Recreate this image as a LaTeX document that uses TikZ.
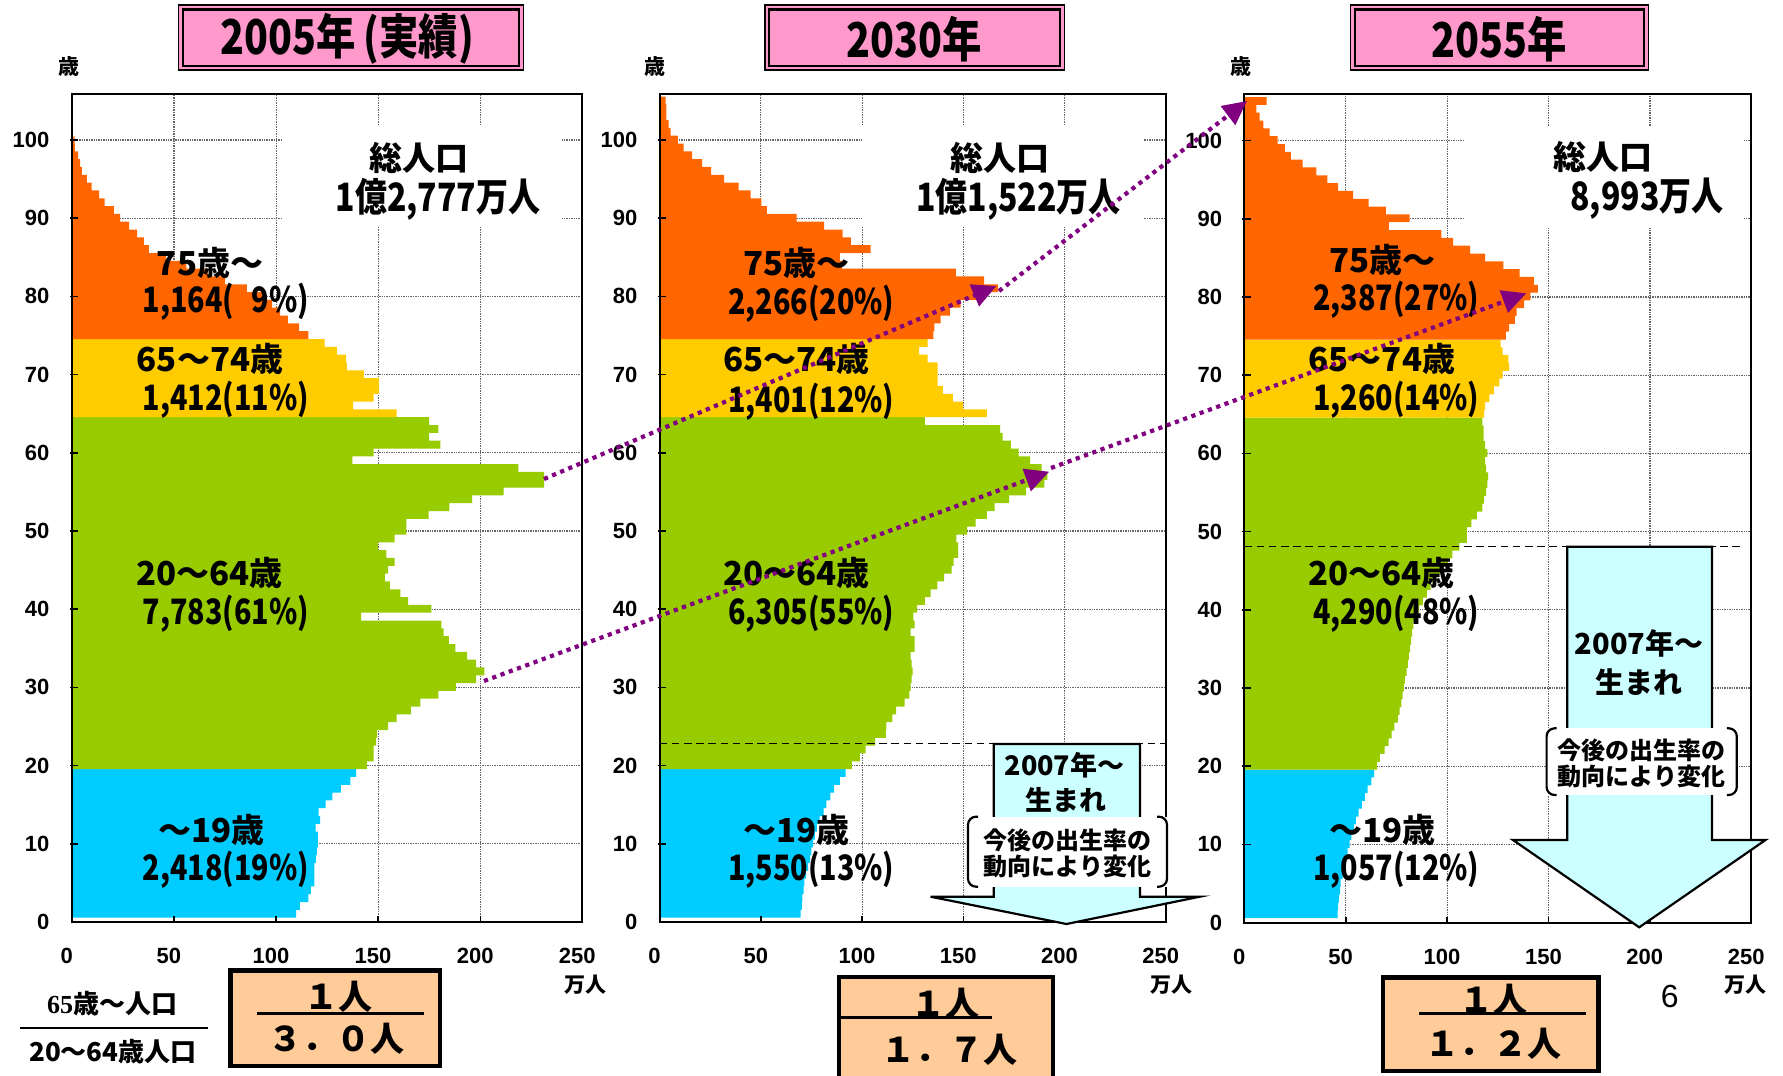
\documentclass[tikz,border=0pt]{standalone}
\usepackage{fontspec}
\setmainfont{Noto Sans CJK JP}
\newfontfamily\jpc{Noto Sans CJK JP}[FakeStretch=0.82]
\newfontfamily\lsans{Liberation Sans}
\newfontfamily\lserif{Liberation Serif}
\usetikzlibrary{arrows.meta}
\definecolor{orng}{HTML}{FF6600}
\definecolor{yelw}{HTML}{FFCC00}
\definecolor{grn}{HTML}{99CC00}
\definecolor{cyn}{HTML}{00CCFF}
\definecolor{pnk}{HTML}{FF99CC}
\definecolor{peach}{HTML}{FFCC99}
\definecolor{lcyan}{HTML}{CCFFFF}
\definecolor{purp}{HTML}{800080}
\newcommand{\popband}[4]{\fill[#1] (0,#2) \foreach \a/\v in {#4} {-- (\v,\a-0.45) -- (\v,\a+0.55)} -- (0,#3) -- cycle;}
\newcommand{\chartgrid}{%
  \foreach \k in {10,20,...,100} {\draw[gridl] (0,\k) -- (250,\k);}
  \foreach \k in {50,100,150,200} {\draw[gridl] (\k,0) -- (\k,105.9);}}
\newcommand{\chartframe}[1]{%
  \draw[frame] (0,0) rectangle (250,105.9);
  \foreach \k in {10,20,...,100} {\draw[tickl] (-1,\k) -- (3.2,\k);}
  \foreach \k in {50,100,150,200} {\draw[tickl] (\k,0) -- (\k,0.75);}
  \foreach \k in {0,10,...,100} {\node[ytick] (#1y\k) at (-10.8,\k) {\k};}
  \foreach \k in {0,50,...,250} {\node[xtick] (#1x\k) at (\k-2.5,-4.35) {\k};}}
\newcommand{\brackets}[4]{%
  \fill[white] (#1,#2) rectangle (#3,#4);
  \draw[line width=1.1pt, rounded corners=4pt] (#1+10,#2) -- (#1,#2) -- (#1,#4) -- (#1+10,#4);
  \draw[line width=1.1pt, rounded corners=4pt] (#3-10,#2) -- (#3,#2) -- (#3,#4) -- (#3-10,#4);}
\begin{document}
\begin{tikzpicture}[x=0.5pt,y=-0.5pt,
  gridl/.style={draw=black!60, line width=0.6pt, dash pattern=on 0.7pt off 0.5pt},
  frame/.style={draw=black, line width=1pt},
  tickl/.style={draw=black, line width=0.8pt},
  ytick/.style={font=\lsans\bfseries\fontsize{11}{12}\selectfont, inner sep=0pt, anchor=east},
  xtick/.style={font=\lsans\bfseries\fontsize{11}{12}\selectfont, inner sep=0pt},
  band/.style={font=\bfseries\fontsize{16.5}{18}\selectfont, inner sep=0pt},
  bandn/.style={font=\jpc\bfseries\fontsize{17.5}{19}\selectfont, inner sep=0pt},
  total/.style={font=\bfseries\fontsize{16.5}{18}\selectfont, inner sep=0pt},
  totaln/.style={font=\jpc\bfseries\fontsize{19.5}{21}\selectfont, inner sep=0pt},
  titletxt/.style={font=\jpc\bfseries\fontsize{24}{26}\selectfont, inner sep=0pt},
  titlebox/.style={draw=black, line width=0.6pt, fill=pnk, inner sep=0pt},
  ratiobox/.style={draw=black, line width=2.25pt, fill=peach, inner sep=0pt},
  ratiotxt/.style={font=\bfseries\fontsize{17}{19}\selectfont, inner sep=0pt},
  arrtxt/.style={font=\bfseries\fontsize{13.5}{15}\selectfont, inner sep=0pt},
  brtxt/.style={font=\bfseries\fontsize{12}{14}\selectfont, inner sep=0pt},
  unit/.style={font=\bfseries\fontsize{10.5}{12}\selectfont, inner sep=0pt},
  fractxt/.style={font=\bfseries\fontsize{13}{15}\selectfont, inner sep=0pt},
  blockarr/.style={draw=black, line width=1.1pt, fill=lcyan, line join=miter},
  dashln/.style={draw=black, line width=0.75pt, dash pattern=on 3.8pt off 2.3pt},
  purparrow/.style={draw=purp, line width=2.1pt, dash pattern=on 2.1pt off 2.3pt, -{Triangle[length=12pt,width=11.5pt]}}
]
\useasboundingbox (0,0) rectangle (1783,1076);
\fill[white] (0,0) rectangle (1783,1076);

% ---------- chart 1 : 2005 ----------
\begin{scope}[shift={(71.9,922)},x=1.021pt,y=3.91pt]
\chartgrid
\fill[white] (102.9,88.9) rectangle (239.3,101.9);
\popband{cyn}{0.55}{19.55}{1/109.8,2/111.6,3/115.8,4/117,5/118.8,6/118.8,7/118.8,8/119.5,9/120,10/120.4,11/120.4,12/119.3,13/121.6,14/120.8,15/124.2,16/127.6,17/131.7,18/136.4,19/139.2}
\popband{grn}{19.55}{64.55}{20/144.5,21/147.7,22/147.7,23/149,24/149.5,25/154.8,26/159,27/166,28/170.7,29/179.5,30/188,31/198,32/202,33/198,34/193.6,35/187.8,36/184.6,37/182,38/180.9,39/141.6,40/176,41/164.7,42/160.8,43/155.7,44/153.3,45/154.8,46/158,47/154,48/150,49/158,50/163.8,51/163.8,52/174.7,53/184.8,54/196,55/211.4,56/231.3,57/231.3,58/218.6,59/137.3,60/147.7,61/180.5,62/174.9,63/179.5,64/174.9}
\popband{yelw}{64.55}{74.55}{65/159,66/137.7,67/147.7,68/150.5,69/150.5,70/143,71/134.7,72/134.3,73/129.8,74/123.8}
\popband{orng}{74.55}{100.1}{75/115.8,76/111.3,77/105.8,78/102,79/98,80/94.2,81/85.7,82/75,83/66.6,84/56,85/46,86/37.7,87/35.3,88/31.9,89/28,90/23.6,91/20.6,92/16,93/13.3,94/9.6,95/7.3,96/4.9,97/4,98/3,99/1.5,100/1.3}
\chartframe{c1}
\end{scope}

% ---------- chart 2 : 2030 ----------
\begin{scope}[shift={(659.6,922)},x=1.0125pt,y=3.91pt]
\chartgrid
\fill[white] (99.8,88.9) rectangle (238.7,101.9);
\popband{cyn}{0.55}{19.55}{1/69.6,2/70.2,3/70.5,4/71.1,5/71.5,6/72.4,7/73.3,8/74.3,9/74.9,10/75.8,11/76.7,12/77.7,13/79,14/81,15/82.4,16/84.3,17/86.2,18/89,19/91.9}
\popband{grn}{19.55}{64.55}{20/95,21/98.9,22/101.7,23/106.4,24/111.7,25/112,26/115,27/116.8,28/121,29/123.4,30/124,31/124.4,32/125,33/124.4,34/124,35/125.9,36/125.9,37/124,38/125.9,39/125.3,40/127.2,41/131,42/133.8,43/137.2,44/140.5,45/144.2,46/145.2,47/147.4,48/147.4,49/146.5,50/151.8,51/156,52/161.6,53/165.4,54/172.6,55/181,56/190,57/191.5,58/188.7,59/183,60/177.3,61/173.5,62/169.4,63/168.2,64/131}
\popband{yelw}{64.55}{74.55}{65/161.6,66/149.9,67/144.8,68/139.9,69/137.3,70/137.3,71/137.3,72/132.3,73/128.2,74/132.3}
\popband{orng}{74.55}{105.55}{75/135.2,76/135.7,77/138.8,78/143.3,79/148.6,80/156.6,81/167,82/160.3,83/146.3,84/90,85/89,86/104.2,87/94.5,88/90.4,89/81.3,90/67.7,91/53,92/50.3,93/45,94/39,95/31.8,96/25.5,97/21,98/16,99/11.8,100/9,101/5.5,102/4.4,103/3.4,104/3.3,105/3}
\draw[dashln] (0,22.8) -- (250,22.8);
\chartframe{c2}
\end{scope}

% ---------- chart 3 : 2055 ----------
\begin{scope}[shift={(1244.3,922.5)},x=1.014pt,y=3.91pt]
\chartgrid
\fill[white] (108.8,88.9) rectangle (246.6,101.9);
\popband{cyn}{0.55}{19.55}{1/46,2/46.2,3/46.6,4/47.2,5/47.5,6/48.5,7/49,8/50,9/51,10/51.9,11/52.8,12/54,13/55,14/56.4,15/58,16/59.4,17/60.8,18/62.6,19/64}
\popband{grn}{19.55}{64.55}{20/65.5,21/66.8,22/69.2,23/71.1,24/72.6,25/74,26/75.7,27/76.6,28/77.4,29/78.1,30/78.7,31/79.2,32/80,33/80.6,34/81.1,35/81.7,36/82.3,37/82.8,38/83.4,39/84.7,40/86.2,41/88,42/90,43/91.9,44/94.7,45/97.5,46/100.4,47/102.6,48/106,49/109.8,50/109.8,51/112,52/114.7,53/117.4,54/118.3,55/119.2,56/119.8,57/120.2,58/119.2,59/118.7,60/119.8,61/118.7,62/118,63/118,64/117.4}
\popband{yelw}{64.55}{74.55}{65/118.3,66/118.7,67/120.8,68/123,69/125.8,70/127.4,71/130.6,72/130.2,73/127.4,74/126.4}
\popband{orng}{74.55}{105.55}{75/129,76/130.6,77/133.4,78/134.3,79/138,80/141,81/144.7,82/142.8,83/135.8,84/127.7,85/118.7,86/111.3,87/103,88/97.2,89/71.3,90/81.5,91/69.8,92/61.3,93/53.6,94/46.2,95/41,96/35.5,97/28.7,98/23,99/20,100/16.4,101/12.5,102/9.4,103/7.5,104/6,105/11}
\draw[dashln] (0,48.06) -- (246,48.06);
\chartframe{c3}
\end{scope}

% ---------- titles ----------
\node[titlebox, minimum width=172.2pt, minimum height=32.5pt] (t1box) at (350.9,37.5) {};
\draw[line width=1.1pt] ([shift={(5,5)}]t1box.north west) rectangle ([shift={(-5,-5)}]t1box.south east);
\node[titletxt] (t1) at (347.1,39.3) {2005年\kern4pt(実績)};
\node[titlebox, minimum width=149.8pt, minimum height=32.5pt] (t2box) at (914.7,37.5) {};
\draw[line width=1.1pt] ([shift={(5,5)}]t2box.north west) rectangle ([shift={(-5,-5)}]t2box.south east);
\node[titletxt] (t2) at (914.6,39.3) {2030年};
\node[titlebox, minimum width=149.25pt, minimum height=32.5pt] (t3box) at (1499.5,37.5) {};
\draw[line width=1.1pt] ([shift={(5,5)}]t3box.north west) rectangle ([shift={(-5,-5)}]t3box.south east);
\node[titletxt] (t3) at (1499.5,39.3) {2055年};

% ---------- axis units ----------
\node[unit] (s1) at (69,67) {歳};
\node[unit] (s2) at (655,67) {歳};
\node[unit] (s3) at (1241,67) {歳};
\node[unit] (m1) at (585.6,985) {万人};
\node[unit] (m2) at (1171,985) {万人};
\node[unit] (m3) at (1745,985) {万人};

% ---------- totals ----------
\node[total] (tot1a) at (419,158) {総人口};
\node[totaln] (tot1b) at (438,199) {1億2,777万人};
\node[total] (tot2a) at (999.5,158) {総人口};
\node[totaln] (tot2b) at (1018.6,199) {1億1,522万人};
\node[total] (tot3a) at (1602.9,157) {総人口};
\node[totaln] (tot3b) at (1646.9,199) {8,993万人};

% ---------- band labels ----------
\node[band] (c1a) at (210,263) {75歳～};
\node[bandn] (c1b) at (225.8,301.7) {1,164(\hphantom{0}9\%)};
\node[band] (c1c) at (210,359) {65～74歳};
\node[bandn] (c1d) at (225.8,400) {1,412(11\%)};
\node[band] (c1e) at (209.7,573.3) {20～64歳};
\node[bandn] (c1f) at (225.8,613.3) {7,783(61\%)};
\node[band] (c1g) at (211.6,830) {～19歳};
\node[bandn] (c1h) at (225.8,870) {2,418(19\%)};

\node[band] (c2a) at (796.6,263) {75歳～};
\node[bandn] (c2b) at (811.2,303.3) {2,266(20\%)};
\node[band] (c2c) at (796.6,359) {65～74歳};
\node[bandn] (c2d) at (811.2,401.7) {1,401(12\%)};
\node[band] (c2e) at (796.6,573.3) {20～64歳};
\node[bandn] (c2f) at (811.2,613.3) {6,305(55\%)};
\node[band] (c2g) at (796.6,830) {～19歳};
\node[bandn] (c2h) at (811.2,870) {1,550(13\%)};

\node[band] (c3a) at (1382.8,260) {75歳～};
\node[bandn] (c3b) at (1396.2,300) {2,387(27\%)};
\node[band] (c3c) at (1381.9,359) {65～74歳};
\node[bandn] (c3d) at (1396.2,400) {1,260(14\%)};
\node[band] (c3e) at (1381.7,573.3) {20～64歳};
\node[bandn] (c3f) at (1396.2,613.3) {4,290(48\%)};
\node[band] (c3g) at (1382.8,830) {～19歳};
\node[bandn] (c3h) at (1396.2,870) {1,057(12\%)};

% ---------- block arrows ----------
\draw[blockarr] (993.7,744) -- (993.7,896.7) -- (930.6,896.7) -- (1066.4,924) -- (1199.7,896.7) -- (1139.9,896.7) -- (1139.9,744) -- cycle;
\node[arrtxt] (b2a) at (1064.5,765) {2007年～};
\node[arrtxt] (b2b) at (1066.4,800) {生まれ};
\brackets{968}{816.7}{1167}{886.7}
\node[brtxt] (b2c) at (1067.5,840) {今後の出生率の};
\node[brtxt] (b2d) at (1067.5,866.7) {動向により変化};

\draw[blockarr] (1567.3,546.7) -- (1567.3,840) -- (1513,840) -- (1639.2,927.3) -- (1765.5,840) -- (1711.9,840) -- (1711.9,546.7) -- cycle;
\node[arrtxt, font=\bfseries\fontsize{14.5}{16}\selectfont] (b3a) at (1639.2,643.3) {2007年～};
\node[arrtxt, font=\bfseries\fontsize{14.5}{16}\selectfont] (b3b) at (1639.2,681.7) {生まれ};
\brackets{1546.6}{728.3}{1736.8}{795}
\node[brtxt] (b3c) at (1641.7,750) {今後の出生率の};
\node[brtxt] (b3d) at (1641.7,776.7) {動向により変化};

% ---------- purple dotted arrows ----------
\coordinate (pa1) at (544,479);
\coordinate (pa2) at (996.4,286);
\coordinate (pa3) at (999,291);
\coordinate (pa4) at (1247,101);
\coordinate (pb1) at (484,681);
\coordinate (pb2) at (1049.2,471.7);
\coordinate (pb3) at (1051,468);
\coordinate (pb4) at (1526.3,293.3);
\draw[purparrow] (pa1) -- (pa2);
\draw[purparrow] (pa3) -- (pa4);
\draw[purparrow] (pb1) -- (pb2);
\draw[purparrow] (pb3) -- (pb4);

% ---------- ratio ----------
\node[fractxt] (fr1) at (112.1,1003.3) {{\lserif\bfseries 65}歳～人口};
\draw[line width=1pt] (19.9,1028.3) -- (207.8,1028.3);
\node[fractxt] (fr2) at (112.9,1051.7) {20～64歳人口};

\node[ratiobox, minimum width=104.55pt, minimum height=47.8pt] (r1box) at (335.25,1018.3) {};
\draw[line width=1.3pt] (257.2,1013.3) -- (424,1013.3);
\node[ratiotxt] (r1a) at (338.7,996.7) {１人};
\node[ratiotxt] (r1b) at (336.7,1038.3) {３．０人};

\node[ratiobox, minimum width=106.9pt, minimum height=56.4pt] (r2box) at (945.9,1033.6) {};
\draw[line width=1.3pt] (838.7,1017.7) -- (991.8,1017.7);
\node[ratiotxt] (r2a) at (945.9,1003.3) {１人};
\node[ratiotxt] (r2b) at (949.7,1050) {１．７人};

\node[ratiobox, minimum width=107.8pt, minimum height=46.95pt] (r3box) at (1490.9,1024.2) {};
\draw[line width=1.3pt] (1419.2,1013.3) -- (1585.6,1013.3);
\node[ratiotxt] (r3a) at (1493.8,1000) {１人};
\node[ratiotxt] (r3b) at (1493.8,1043.3) {１．２人};

\node[font=\lsans\fontsize{16}{18}\selectfont, inner sep=0pt] (pg) at (1669.8,996.7) {6};
\end{tikzpicture}
\end{document}
